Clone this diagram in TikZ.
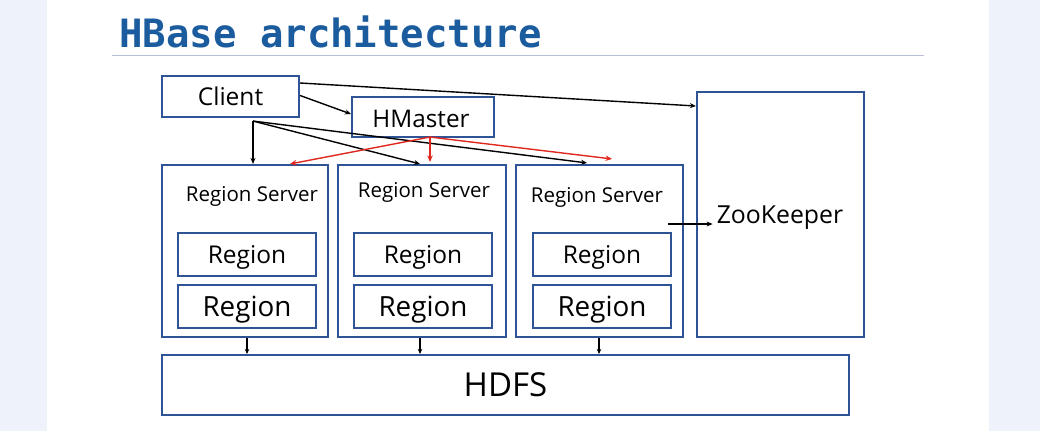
\documentclass[tikz,border=0pt]{standalone}
\usepackage{fontspec}
\setmainfont{Open Sans}
\newfontfamily\titlefont{DejaVu Sans Mono}
\usetikzlibrary{arrows.meta,calc}
\definecolor{boxblue}{RGB}{47,84,150}
\definecolor{titleblue}{RGB}{27,92,158}
\definecolor{sidebg}{RGB}{238,242,250}
\definecolor{arrred}{RGB}{224,40,30}
\tikzset{
  box/.style={draw=boxblue,line width=2.1pt,fill=white,inner sep=0pt,font=\color{black}},
  lbl/.style={inner sep=0pt,anchor=center,text=black},
  capc/.style={text height=#1,text depth=0pt},
  blk/.style={draw=black,line width=1.4pt,-{Stealth[length=6pt,width=5pt]}},
  red/.style={draw=arrred,line width=1.4pt,-{Stealth[length=6.5pt,width=5.5pt]}},
}
\begin{document}
\begin{tikzpicture}[x=1pt,y=-1pt]
\useasboundingbox (0,0) rectangle (1040,431);
\fill[white] (0,0) rectangle (1040,431);
\fill[sidebg] (0,0) rectangle (47,431);
\fill[sidebg] (989,0) rectangle (1040,431);
% title
\node[anchor=base west,inner sep=0pt,text=titleblue,font=\titlefont\bfseries\fontsize{39}{40}\selectfont] (title) at (119,47) {HBase architecture};
\draw[color={rgb,255:red,184;green,192;blue,216},line width=1pt] (112,55) -- (924,55);
% boxes
\node[box,minimum width=137pt,minimum height=41pt,font=\fontsize{24.5}{26}\selectfont] (client) at (230.5,96.5) {};
\node[lbl,capc=17.5pt,font=\fontsize{24.5}{26}\selectfont] (clientl) at (230.5,97) {Client};
\node[box,minimum width=142pt,minimum height=40pt] (hm) at (423,117) {};
\node[lbl,capc=17.4pt,font=\fontsize{24.3}{26}\selectfont] (hml) at (421,118.5) {HMaster};
\node[box,minimum width=166pt,minimum height=172pt] (rs1) at (245,251) {};
\node[box,minimum width=168pt,minimum height=172pt] (rs2) at (422,251) {};
\node[box,minimum width=167pt,minimum height=172pt] (rs3) at (599.5,251) {};
\node[box,minimum width=167pt,minimum height=245pt] (zk) at (780.5,214.5) {};
\node[box,minimum width=687pt,minimum height=60pt,capc=23.6pt,font=\fontsize{33}{36}\selectfont] (hdfs) at (505.5,385) {HDFS};
% region server labels
\node[lbl,capc=14.6pt,font=\fontsize{20.5}{22}\selectfont] (rs1l) at (252,194) {Region Server};
\node[lbl,capc=14.6pt,font=\fontsize{20.5}{22}\selectfont] (rs2l) at (424,190) {Region Server};
\node[lbl,capc=14.6pt,font=\fontsize{20.5}{22}\selectfont] (rs3l) at (597,195.5) {Region Server};
\node[lbl,capc=17.7pt,font=\fontsize{24.8}{26}\selectfont] (zkl) at (780,215) {ZooKeeper};
% regions
\foreach \n/\x in {1/247,2/423,3/602}{
  \node[box,minimum width=138pt,minimum height=43pt,capc=17.5pt,font=\fontsize{24.5}{26}\selectfont] (r\n a) at (\x,254.5) {Region};
  \node[box,minimum width=138pt,minimum height=43pt,capc=19.85pt,font=\fontsize{27.8}{30}\selectfont] (r\n b) at (\x,306.5) {Region};
}
% connectors
\draw[blk] ([yshift=13.5pt]client.east) -- ([yshift=108.5pt]zk.west);
\draw[blk] ([yshift=1pt]client.east) -- ([yshift=3pt]hm.west);
\coordinate (cf) at ([xshift=22.5pt,yshift=-3pt]client.south);
\draw[blk] (cf) -- ([xshift=8pt]rs1.north);
\draw[blk] (cf) -- ([xshift=-2pt]rs2.north);
\draw[blk] (cf) -- ([xshift=-12.5pt,yshift=1pt]rs3.north);
\coordinate (hf) at ([xshift=7pt,yshift=1pt]hm.south);
\draw[red] (hf) -- ([xshift=45pt]rs1.north);
\draw[red] (hf) -- ([xshift=8pt,yshift=2pt]rs2.north);
\draw[red] (hf) -- ([xshift=12.5pt,yshift=5pt]rs3.north);
\coordinate (zs) at ([xshift=-16pt,yshift=27pt]rs3.east);
\draw[blk] (zs) -- ([xshift=-4pt,yshift=-9pt]zkl.west);
\foreach \i/\dx in {1/2,2/-2,3/-0.5}{
  \draw[blk,-{Stealth[length=5pt,width=4.5pt]},line width=1.1pt] ([xshift=\dx pt]rs\i.south) -- ([xshift=\dx pt]rs\i.south |- hdfs.north);
}
\end{tikzpicture}
\end{document}
